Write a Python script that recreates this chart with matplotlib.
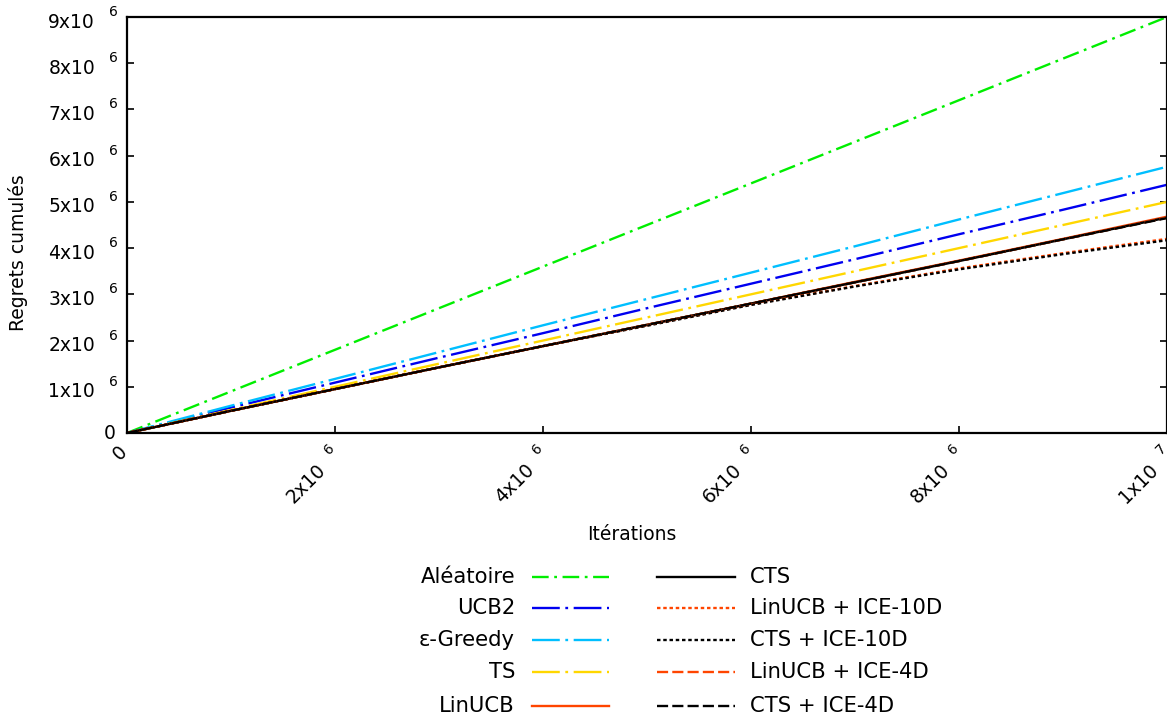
import matplotlib
matplotlib.use("Agg")
import matplotlib.pyplot as plt
from matplotlib.lines import Line2D
from matplotlib.transforms import offset_copy, blended_transform_factory

plt.rcParams['font.family'] = ['DejaVu Sans']
plt.rcParams['lines.scale_dashes'] = False

# iterations (x) and cumulative regrets (y)
iterations = [0, 1e6, 2e6, 3e6, 4e6, 5e6, 6e6, 7e6, 8e6, 9e6, 1e7]
aleatoire = [0, 0.9e6, 1.8e6, 2.7e6, 3.6e6, 4.5e6, 5.4e6, 6.3e6, 7.2e6, 8.1e6, 9.0e6]
ucb2 = [0, 0.55e6, 1.09e6, 1.63e6, 2.16e6, 2.70e6, 3.23e6, 3.76e6, 4.30e6, 4.83e6, 5.37e6]
egreedy = [0, 0.59e6, 1.17e6, 1.75e6, 2.33e6, 2.90e6, 3.47e6, 4.04e6, 4.62e6, 5.19e6, 5.76e6]
ts = [0, 0.50e6, 1.00e6, 1.50e6, 2.00e6, 2.50e6, 3.00e6, 3.50e6, 4.00e6, 4.50e6, 5.00e6]
linucb = [0, 0.48e6, 0.95e6, 1.42e6, 1.88e6, 2.34e6, 2.80e6, 3.27e6, 3.73e6, 4.20e6, 4.68e6]
cts = [0, 0.48e6, 0.95e6, 1.42e6, 1.88e6, 2.34e6, 2.80e6, 3.26e6, 3.72e6, 4.19e6, 4.66e6]
linucb_ice10 = [0, 0.48e6, 0.95e6, 1.42e6, 1.88e6, 2.33e6, 2.78e6, 3.18e6, 3.56e6, 3.89e6, 4.20e6]
cts_ice10 = [0, 0.48e6, 0.95e6, 1.42e6, 1.88e6, 2.32e6, 2.77e6, 3.17e6, 3.54e6, 3.87e6, 4.17e6]
linucb_ice4 = [0, 0.48e6, 0.95e6, 1.42e6, 1.88e6, 2.34e6, 2.80e6, 3.26e6, 3.72e6, 4.19e6, 4.66e6]
cts_ice4 = [0, 0.48e6, 0.95e6, 1.42e6, 1.88e6, 2.34e6, 2.80e6, 3.26e6, 3.72e6, 4.19e6, 4.65e6]

yticks = [0, 1e6, 2e6, 3e6, 4e6, 5e6, 6e6, 7e6, 8e6, 9e6]
ytick_mant = ['0', '1x10', '2x10', '3x10', '4x10', '5x10', '6x10', '7x10', '8x10', '9x10']
xticks = [0, 2e6, 4e6, 6e6, 8e6, 1e7]
xtick_mant = ['0', '2x10', '4x10', '6x10', '8x10', '1x10']
xtick_exp = ['', '6', '6', '6', '6', '7']

GREEN = '#00EE00'
BLUE = '#0000F0'
CYAN = '#00BFFF'
GOLD = '#FFD700'
ORANGE = '#FF4500'

lw = 1.7
dashdot_short = (0, (12, 4, 2, 4))
dashdot_long = (0, (20, 4, 2, 4))
dotted = (0, (2.5, 2))
dashed = (0, (8, 3))

# name, data, color, linestyle
series = [
    ('Aléatoire', aleatoire, GREEN, dashdot_short),
    ('UCB2', ucb2, BLUE, dashdot_long),
    ('ε-Greedy', egreedy, CYAN, dashdot_long),
    ('TS', ts, GOLD, dashdot_long),
    ('LinUCB', linucb, ORANGE, '-'),
    ('CTS', cts, 'black', '-'),
    ('LinUCB + ICE-10D', linucb_ice10, ORANGE, dotted),
    ('CTS + ICE-10D', cts_ice10, 'black', dotted),
    ('LinUCB + ICE-4D', linucb_ice4, ORANGE, dashed),
    ('CTS + ICE-4D', cts_ice4, 'black', dashed),
]

W, H = 1167, 722
fig = plt.figure(figsize=(W / 100, H / 100), dpi=100)
ax = fig.add_axes([127 / W, 1 - 433 / H, 1040 / W, 416 / H])

for name, data, col, ls in series:
    ax.plot(iterations, data, color=col, linestyle=ls, linewidth=lw)

ax.set_xlim(0, 1e7)
ax.set_ylim(0, 9e6)
for s in ax.spines.values():
    s.set_linewidth(1.6)
ax.set_xticks(xticks)
ax.set_yticks(yticks)
ax.set_xticklabels([])
ax.set_yticklabels([])
ax.tick_params(direction='in', length=5, width=1.2, top=False, right=True)

# y tick labels in gnuplot style: "Nx10" with a detached exponent
ytr = blended_transform_factory(ax.transAxes, ax.transData)
for v, m in zip(yticks, ytick_mant):
    if m == '0':
        ax.text(0, v, m, transform=offset_copy(ytr, fig=fig, x=-11, y=0, units='dots'),
                ha='right', va='center', fontsize=13.5)
    else:
        ax.text(0, v, m, transform=offset_copy(ytr, fig=fig, x=-32, y=-5, units='dots'),
                ha='right', va='center', fontsize=13.5)
        ax.text(0, v, '6', transform=offset_copy(ytr, fig=fig, x=-14, y=5, units='dots'),
                ha='center', va='center', fontsize=10)

# x tick labels, rotated 45 degrees
xtr = blended_transform_factory(ax.transData, ax.transAxes)
for v, m, e in zip(xticks, xtick_mant, xtick_exp):
    if m == '0':
        ax.text(v, 0, m, transform=offset_copy(xtr, fig=fig, x=-7, y=-20, units='dots'),
                ha='center', va='center', rotation=45, fontsize=13.5)
    else:
        ax.text(v, 0, m, transform=offset_copy(xtr, fig=fig, x=-12, y=-34, units='dots'),
                ha='right', va='center', rotation=45, rotation_mode='anchor', fontsize=13.5)
        ax.text(v, 0, e, transform=offset_copy(xtr, fig=fig, x=-6, y=-16, units='dots'),
                ha='center', va='center', rotation=45, fontsize=10)

fig.text(18 / W, 1 - 253 / H, 'Regrets cumulés', rotation=90, ha='center', va='center', fontsize=13.5)
fig.text(632 / W, 1 - 535 / H, 'Itérations', ha='center', va='center', fontsize=13.5)

# legend drawn by hand, two columns like gnuplot
rows_y = [577, 608, 640, 672, 706]
for i, (name, data, col, ls) in enumerate(series):
    r = i % 5
    yy = 1 - rows_y[r] / H
    if i < 5:
        fig.add_artist(Line2D([532 / W, 609 / W], [yy, yy], transform=fig.transFigure,
                              color=col, linestyle=ls, linewidth=lw))
        fig.text(515 / W, yy, name, ha='right', va='center', fontsize=15.2)
    else:
        fig.add_artist(Line2D([657 / W, 735 / W], [yy, yy], transform=fig.transFigure,
                              color=col, linestyle=ls, linewidth=lw))
        fig.text(750 / W, yy, name, ha='left', va='center', fontsize=15.2)

fig.savefig('out.png', dpi=100)
